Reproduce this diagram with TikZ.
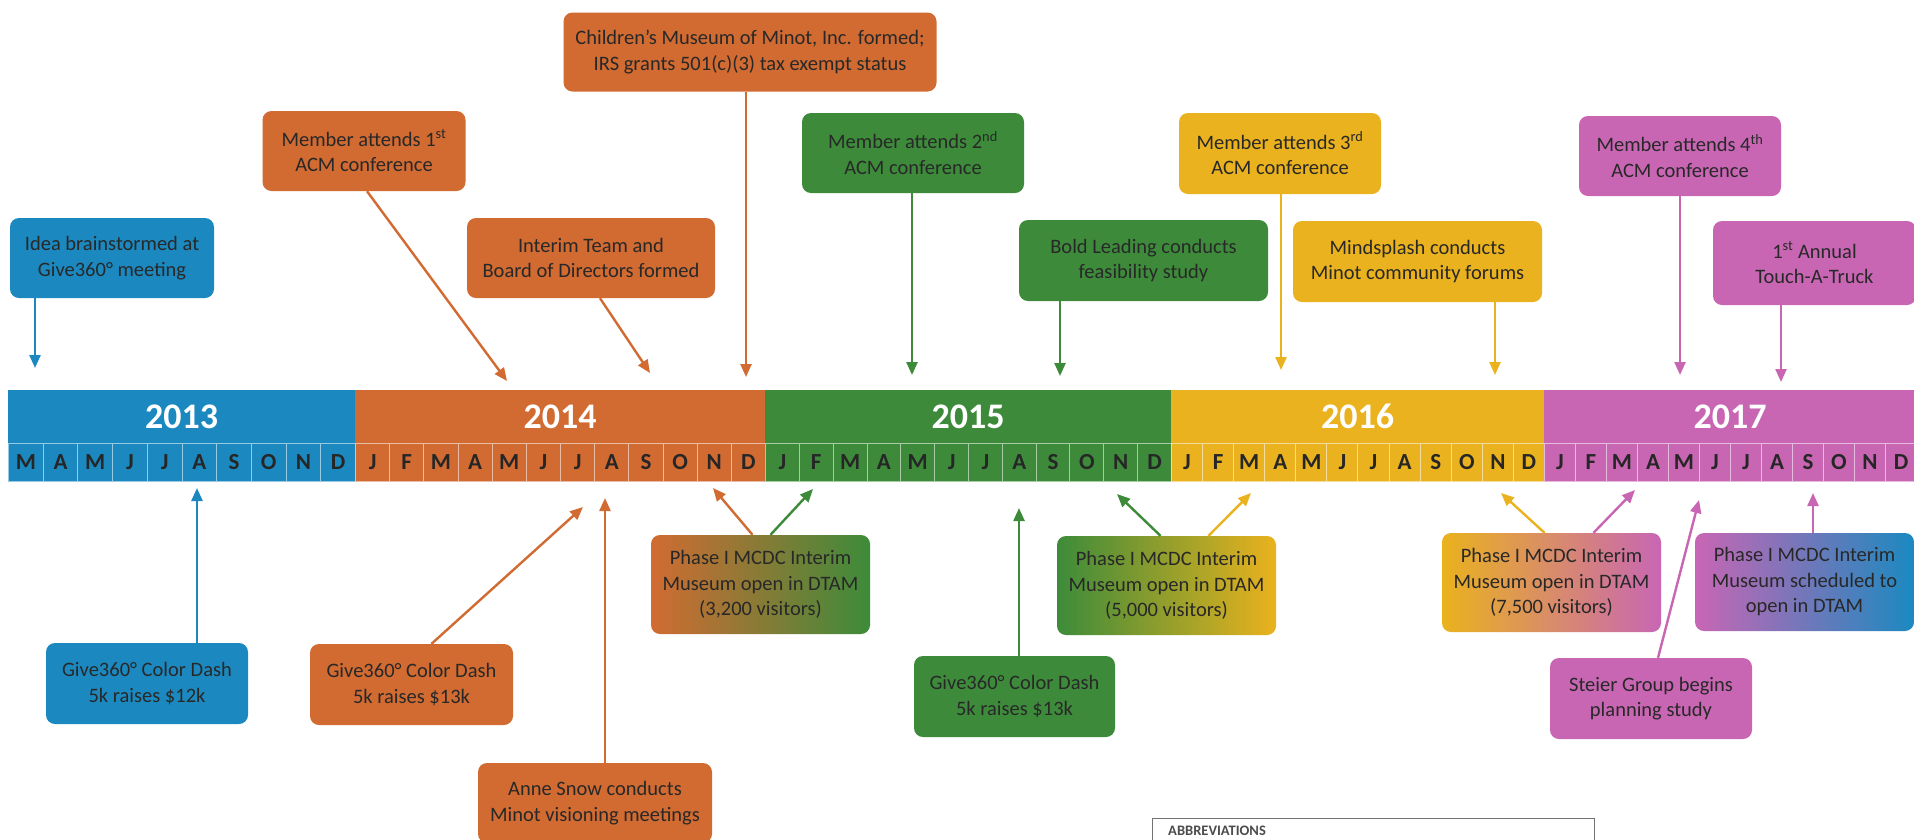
\documentclass[tikz,border=0pt]{standalone}
\usepackage{fontspec}
\setmainfont{Carlito}
\usetikzlibrary{arrows.meta}
\definecolor{cblue}{RGB}{27,137,192}
\definecolor{corange}{RGB}{209,107,50}
\definecolor{cgreen}{RGB}{61,139,58}
\definecolor{cyellow}{RGB}{234,178,30}
\definecolor{cpink}{RGB}{200,102,180}
\definecolor{ctxt}{RGB}{40,40,40}
\definecolor{cmidog}{RGB}{200,170,48}
\definecolor{cmidyp}{RGB}{218,160,150}
\definecolor{cmidpb}{RGB}{140,90,170}
\newcommand\tlyear[6]{%
  \pgfmathsetmacro\tlw{#3*#4}%
  \node[yr, fill=#5, minimum width=\tlw pt, minimum height=53pt, anchor=north west] (y#1) at (#2,390) {#1};
  \foreach \m [count=\k] in {#6} {
    \node[mo, fill=#5, draw=white!55!#5, minimum width=#3 pt, minimum height=38pt, anchor=north west] (m#1-\k) at ({#2+(\k-1)*#3},443) {\m};
  }%
}
\begin{document}
\begin{tikzpicture}[x=1pt,y=-1pt,
  ev/.style={rounded corners=9pt, align=center, inner sep=0pt, text=ctxt, font=\fontsize{20.5}{25.5}\selectfont},
  arr/.style={line width=2.4pt, -{Triangle[length=13pt,width=11pt]}},
  yr/.style={inner sep=0pt, text=white, font=\fontsize{36}{36}\selectfont\bfseries},
  mo/.style={inner sep=0pt, line width=1pt, text=black!85, font=\fontsize{23}{23}\selectfont\bfseries}]
\useasboundingbox (0,0) rectangle (1914,839);
\clip (0,0) rectangle (1914,839);
\fill[white] (0,0) rectangle (1914,839);

% timeline bar
\tlyear{2013}{8}{34.7}{10}{cblue}{M,A,M,J,J,A,S,O,N,D}
\tlyear{2014}{355}{34.17}{12}{corange}{J,F,M,A,M,J,J,A,S,O,N,D}
\tlyear{2015}{765}{33.83}{12}{cgreen}{J,F,M,A,M,J,J,A,S,O,N,D}
\tlyear{2016}{1171}{31.08}{12}{cyellow}{J,F,M,A,M,J,J,A,S,O,N,D}
\tlyear{2017}{1544}{31}{12}{cpink}{J,F,M,A,M,J,J,A,S,O,N,D}

% top events
\node[ev, fill=cblue, minimum width=204pt, minimum height=80pt] (idea) at (112,258) {Idea brainstormed at\\Give360° meeting};
\node[ev, fill=corange, minimum width=203pt, minimum height=80pt] (m1) at (364,151) {Member attends 1\textsuperscript{st}\\ACM conference};
\node[ev, fill=corange, minimum width=248pt, minimum height=80pt] (interim) at (591,258) {Interim Team and\\Board of Directors formed};
\node[ev, fill=corange, minimum width=373pt, minimum height=79pt] (cmm) at (750,52) {Children’s Museum of Minot, Inc. formed;\\IRS grants 501(c)(3) tax exempt status};
\node[ev, fill=cgreen, minimum width=222pt, minimum height=80pt] (m2) at (913,153) {Member attends 2\textsuperscript{nd}\\ACM conference};
\node[ev, fill=cgreen, minimum width=249pt, minimum height=81pt] (bold) at (1143.5,260.5) {Bold Leading conducts\\feasibility study};
\node[ev, fill=cyellow, minimum width=202pt, minimum height=81pt] (m3) at (1280,153.5) {Member attends 3\textsuperscript{rd}\\ACM conference};
\node[ev, fill=cyellow, minimum width=249pt, minimum height=81pt] (mind) at (1417.5,261.5) {Mindsplash conducts\\Minot community forums};
\node[ev, fill=cpink, minimum width=202pt, minimum height=80pt] (m4) at (1680,156) {Member attends 4\textsuperscript{th}\\ACM conference};
\node[ev, fill=cpink, minimum width=203pt, minimum height=84pt] (tat) at (1814.5,263) {1\textsuperscript{st} Annual\\Touch-A-Truck};

\coordinate (tidea) at (35,368);
\coordinate (tm1) at (507,381);
\coordinate (tinterim) at (650,373);
\coordinate (tcmm) at (746,377);
\coordinate (tm2) at (912,375);
\coordinate (tbold) at (1060,376);
\coordinate (tm3) at (1281,370);
\coordinate (tmind) at (1495,375);
\coordinate (tm4) at (1680,375);
\coordinate (ttat) at (1781,382);

\draw[arr, cblue] (idea.south -| tidea) -- (tidea);
\draw[arr, corange] ([xshift=3pt]m1.south) -- (tm1);
\draw[arr, corange] ([xshift=9pt]interim.south) -- (tinterim);
\draw[arr, corange] (cmm.south -| tcmm) -- (tcmm);
\draw[arr, cgreen] (m2.south -| tm2) -- (tm2);
\draw[arr, cgreen] (bold.south -| tbold) -- (tbold);
\draw[arr, cyellow] (m3.south -| tm3) -- (tm3);
\draw[arr, cyellow] (mind.south -| tmind) -- (tmind);
\draw[arr, cpink] (m4.south -| tm4) -- (tm4);
\draw[arr, cpink] (tat.south -| ttat) -- (ttat);

% bottom events
\node[ev, fill=cblue, minimum width=202pt, minimum height=81pt] (cd13) at (147,683.5) {Give360° Color Dash\\5k raises \$12k};
\node[ev, fill=corange, minimum width=203pt, minimum height=81pt] (cd14) at (411.5,684.5) {Give360° Color Dash\\5k raises \$13k};
\node[ev, fill=corange, minimum width=234pt, minimum height=80pt] (anne) at (595,803) {Anne Snow conducts\\Minot visioning meetings};
\node[ev, left color=corange, middle color=cmidog, right color=cgreen, minimum width=219pt, minimum height=99pt] (ph1) at (760.5,584.5) {Phase I MCDC Interim\\Museum open in DTAM\\(3,200 visitors)};
\node[ev, fill=cgreen, minimum width=201pt, minimum height=81pt] (cd15) at (1014.5,696.5) {Give360° Color Dash\\5k raises \$13k};
\node[ev, left color=cgreen, right color=cyellow, minimum width=219pt, minimum height=99pt] (ph2) at (1166.5,585.5) {Phase I MCDC Interim\\Museum open in DTAM\\(5,000 visitors)};
\node[ev, left color=cyellow, middle color=cmidyp, right color=cpink, minimum width=219pt, minimum height=99pt] (ph3) at (1551.5,582.5) {Phase I MCDC Interim\\Museum open in DTAM\\(7,500 visitors)};
\node[ev, left color=cpink, middle color=cmidpb, right color=cblue, minimum width=219pt, minimum height=98pt] (ph4) at (1804.5,582) {Phase I MCDC Interim\\Museum scheduled to\\open in DTAM};
\node[ev, fill=cpink, minimum width=202pt, minimum height=81pt] (steier) at (1651,698.5) {Steier Group begins\\planning study};

\coordinate (bcd13) at (197,488);
\coordinate (bcd14) at (583,507);
\coordinate (banne) at (605,498);
\coordinate (bph1a) at (713,488);
\coordinate (bph1b) at (813,489);
\coordinate (bcd15) at (1019,508);
\coordinate (bph2a) at (1117,494);
\coordinate (bph2b) at (1251,493);
\coordinate (bph3a) at (1501,493);
\coordinate (bph3b) at (1635,490);
\coordinate (bph4) at (1813,493);
\coordinate (bsteier) at (1699,500);

\draw[arr, cblue] (cd13.north -| bcd13) -- (bcd13);
\draw[arr, corange] ([xshift=20pt]cd14.north) -- (bcd14);
\draw[arr, corange] (anne.north -| banne) -- (banne);
\draw[arr, corange] ([xshift=-8pt]ph1.north) -- (bph1a);
\draw[arr, cgreen] ([xshift=10pt]ph1.north) -- (bph1b);
\draw[arr, cgreen] (cd15.north -| bcd15) -- (bcd15);
\draw[arr, cgreen] ([xshift=-6pt]ph2.north) -- (bph2a);
\draw[arr, cyellow] ([xshift=42pt]ph2.north) -- (bph2b);
\draw[arr, cyellow] ([xshift=-7pt]ph3.north) -- (bph3a);
\draw[arr, cpink] ([xshift=42pt]ph3.north) -- (bph3b);
\draw[arr, cpink] (ph4.north -| bph4) -- (bph4);
\draw[arr, cpink] ([xshift=7pt]steier.north) -- (bsteier);

% abbreviations box (cut off by the page edge)
\node[draw=black!55, line width=1pt, minimum width=442pt, minimum height=100pt, inner sep=0pt, anchor=north west] (abbr) at (1152,818) {};
\node[inner sep=0pt, anchor=north west, text=black!70, font=\fontsize{14.5}{14.5}\selectfont\bfseries] (abbrt) at (1168,826) {ABBREVIATIONS};
\end{tikzpicture}
\end{document}
